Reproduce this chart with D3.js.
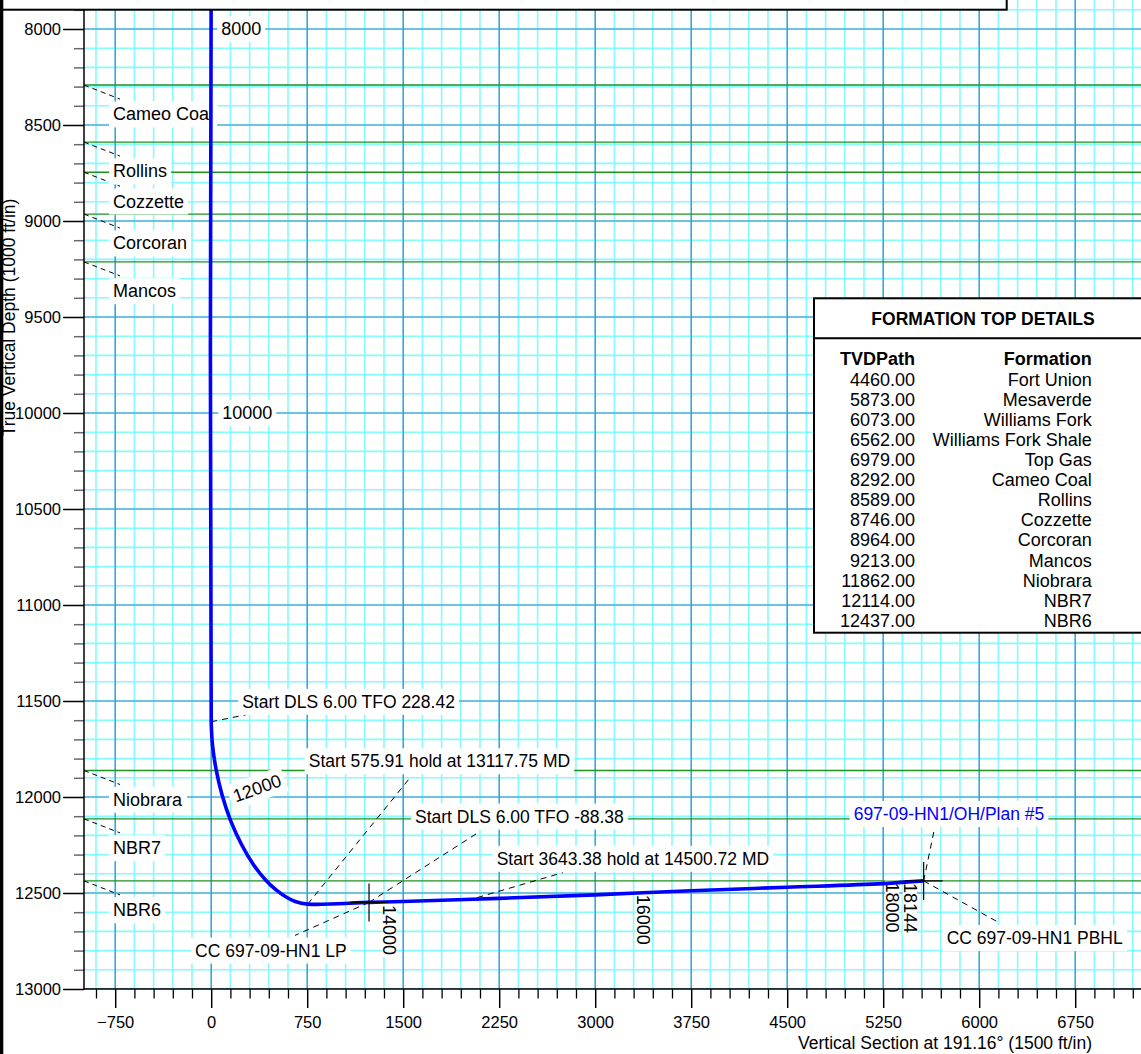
<!DOCTYPE html>
<html>
<head>
<meta charset="utf-8">
<script src="https://d3js.org/d3.v7.min.js"></script>
<style>
body{margin:0;background:#fff;}
text{font-family:"Liberation Sans",Arial,sans-serif;fill:#000;}
</style>
</head>
<body>
<script>
var width = 1141, height = 1054;

// formation tops
var formNames = ["Fort Union","Mesaverde","Williams Fork","Williams Fork Shale","Top Gas","Cameo Coal","Rollins","Cozzette","Corcoran","Mancos","Niobrara","NBR7","NBR6"];
var formTVD = [4460,5873,6073,6562,6979,8292,8589,8746,8964,9213,11862,12114,12437];

// well path (vertical section, true vertical depth)
var pathVS  = [0, 0, 10, 39, 85, 150, 239, 332, 425, 507, 585, 656, 754, 1233, 1498, 2248, 2998, 3748, 4498, 5248, 5566];
var pathTVD = [7700, 11608, 11729, 11859, 11990, 12120, 12250, 12354, 12432, 12484, 12521, 12544, 12558, 12549, 12544, 12528, 12510, 12488, 12470, 12451, 12437];

// measured depth marks along the path
var mdLabels = ["8000","10000","12000","14000","16000","18000","18144"];
var mdVS  = [0, 0, 85, 1500, 3480, 5420, 5566];
var mdTVD = [8000, 10000, 11990, 12544, 12501, 12443, 12437];

// plan annotations
var noteText = ["Start DLS 6.00 TFO 228.42","Start 575.91 hold at 13117.75 MD","Start DLS 6.00 TFO -88.38","Start 3643.38 hold at 14500.72 MD","CC 697-09-HN1 LP","CC 697-09-HN1 PBHL","697-09-HN1/OH/Plan #5"];
var noteVS  = [0, 754, 1233, 1996, 1233, 5566, 5566];
var noteTVD = [11608, 12558, 12549, 12540, 12549, 12437, 12437];

// targets
var targetVS = [1233, 5566];
var targetTVD = [12549, 12437];

// axis tick labels
var xTickValues = [-750, 0, 750, 1500, 2250, 3000, 3750, 4500, 5250, 6000, 6750];
var yTickValues = [8000, 8500, 9000, 9500, 10000, 10500, 11000, 11500, 12000, 12500, 13000];

// label placement (pixel offsets from anchors): text dx, dy, leader dx, dy
var noteLayout = [[31,-20,35,-7],[1,-143,102,-126],[46,-86,111,-71],[30,-42,96,-28],[-174,48,-74,33],[23,57,74,41],[-70,-67,11,-53]];
var mdLayout = [[10,0,0,"start"],[11,0,0,"start"],[35,-7,-20,"middle"],[-20,3.5,90,"start"],[-20,1.5,90,"start"],[-19,0.5,90,"start"],[-20,2,90,"start"]];

var svg = d3.select("body")
.append("svg")
.attr("width", width)
.attr("height", height)
.style("display","block");

svg.append("rect").attr("width", width).attr("height", height).attr("fill", "#fff");

var x = d3.scaleLinear().domain([-750, 6750]).range([115.2, 1075.2]);
var y = d3.scaleLinear().domain([8000, 13000]).range([29, 989]);

var plotL = 84, plotR = width, plotT = 0, plotB = 989;
var tvdTop = y.invert(plotT);

svg.append("clipPath").attr("id","plotClip").append("rect")
.attr("x", plotL).attr("y", plotT)
.attr("width", plotR - plotL).attr("height", plotB - plotT);

var plot = svg.append("g").attr("clip-path","url(#plotClip)");

// grid
var minorV = d3.range(-900, 7201, 150), majorV = d3.range(-750, 7201, 750);
var minorH = d3.range(7900, 13001, 100), majorH = d3.range(8000, 13001, 500);

plot.selectAll(".minorV").data(minorV)
.enter().append("line").attr("class","minorV")
.attr("x1", d => x(d)).attr("x2", d => x(d))
.attr("y1", plotT).attr("y2", plotB)
.attr("stroke","#84fbff").attr("stroke-width",1.6);

plot.selectAll(".minorH").data(minorH)
.enter().append("line").attr("class","minorH")
.attr("x1", plotL).attr("x2", plotR)
.attr("y1", d => y(d)).attr("y2", d => y(d))
.attr("stroke","#84fbff").attr("stroke-width",1.6);

plot.selectAll(".majorV").data(majorV)
.enter().append("line").attr("class","majorV")
.attr("x1", d => x(d)).attr("x2", d => x(d))
.attr("y1", plotT).attr("y2", plotB)
.attr("stroke","#3a88c6").attr("stroke-width",1.2);

plot.selectAll(".majorH").data(majorH)
.enter().append("line").attr("class","majorH")
.attr("x1", plotL).attr("x2", plotR)
.attr("y1", d => y(d)).attr("y2", d => y(d))
.attr("stroke","#3a88c6").attr("stroke-width",1.2);

// formation tops inside the window
var forms = formNames.map(function(n, i){ return {name:n, tvd:formTVD[i]}; })
.filter(function(f){ return f.tvd > tvdTop && f.tvd < 13000; });

plot.selectAll(".formLine").data(forms)
.enter().append("line").attr("class","formLine")
.attr("x1", plotL).attr("x2", plotR)
.attr("y1", d => y(d.tvd)).attr("y2", d => y(d.tvd))
.attr("stroke","#1f921f").attr("stroke-width",1.4);

var dash = "6,5";

plot.selectAll(".formLeader").data(forms)
.enter().append("line").attr("class","formLeader")
.attr("x1", plotL).attr("x2", plotL + 36)
.attr("y1", d => y(d.tvd)).attr("y2", d => y(d.tvd) + 14)
.attr("stroke","#000").attr("stroke-width",1).attr("stroke-dasharray","5,4");

// annotation leaders
var notes = noteText.map(function(t, i){
    return {text:t, vs:noteVS[i], tvd:noteTVD[i], lay:noteLayout[i]};
});

plot.selectAll(".noteLeader").data(notes)
.enter().append("line").attr("class","noteLeader")
.attr("x1", d => x(d.vs)).attr("y1", d => y(d.tvd))
.attr("x2", d => x(d.vs) + d.lay[2]).attr("y2", d => y(d.tvd) + d.lay[3])
.attr("stroke","#000").attr("stroke-width",1).attr("stroke-dasharray",dash);

// boxed labels
var labels = plot.append("g");

function boxedLabel(tx, ty, rot, txt, anchor, dy, size, color, tight){
    var g = labels.append("g")
    .attr("transform","translate(" + tx + "," + ty + ") rotate(" + rot + ")");
    var r = g.append("rect").attr("fill","#fff");
    var t = g.append("text")
    .attr("text-anchor", anchor)
    .attr("dy", dy)
    .style("font-size", size + "px")
    .style("fill", color || "#000")
    .text(txt);
    var b = t.node().getBBox();
    if (tight) {
        // only the digit band, so neighbouring md labels don't hide each other
        r.attr("x", b.x - 2).attr("y", -size * 0.74)
        .attr("width", b.width + 4).attr("height", size * 0.74 + 1);
    } else {
        r.attr("x", b.x - 4).attr("y", b.y - 3)
        .attr("width", b.width + 8).attr("height", b.height + 6);
    }
}

forms.forEach(function(f){
    boxedLabel(113, y(f.tvd) + 29, 0, f.name, "start", "0.35em", 18);
});

notes.forEach(function(n, i){
    boxedLabel(x(n.vs) + n.lay[0], y(n.tvd) + n.lay[1], 0, n.text, "start", "0.35em", 17.5,
        i == notes.length - 1 ? "#0000ff" : "#000");
});

mdLabels.forEach(function(m, i){
    var l = mdLayout[i];
    var vert = l[2] == 90;
    boxedLabel(x(mdVS[i]) + l[0], y(mdTVD[i]) + l[1], l[2], m, l[3], vert ? "0" : "0.35em", 18, "#000", vert);
});

// well path
var wellPts = pathVS.map(function(v, i){ return [v, pathTVD[i]]; });
var wellLine = d3.line()
.x(d => x(d[0]))
.y(d => y(d[1]))
.curve(d3.curveCatmullRom.alpha(0.5));

plot.append("path")
.datum(wellPts)
.attr("d", wellLine)
.attr("fill","none")
.attr("stroke","#0000ff")
.attr("stroke-width",3.6)
.attr("stroke-linejoin","round");

// target crosses
var targets = targetVS.map(function(v, i){ return [v, targetTVD[i]]; });
plot.selectAll(".tgtV").data(targets)
.enter().append("line").attr("class","tgtV")
.attr("x1", d => x(d[0])).attr("x2", d => x(d[0]))
.attr("y1", d => y(d[1]) - 19).attr("y2", d => y(d[1]) + 19)
.attr("stroke","#000").attr("stroke-width",1.2);
plot.selectAll(".tgtH").data(targets)
.enter().append("line").attr("class","tgtH")
.attr("x1", d => x(d[0]) - 19).attr("x2", d => x(d[0]) + 19)
.attr("y1", d => y(d[1])).attr("y2", d => y(d[1]))
.attr("stroke","#000").attr("stroke-width",1.2);

// formation top details table
var table = svg.append("g");
var tblX = 814, tblTop = 298.3, tblSep = 338.3, tblBot = 632.7;
table.append("rect")
.attr("x", tblX).attr("y", tblTop)
.attr("width", width - tblX + 10).attr("height", tblBot - tblTop)
.attr("fill","#fff").attr("stroke","#000").attr("stroke-width",2);
table.append("line")
.attr("x1", tblX).attr("x2", width)
.attr("y1", tblSep).attr("y2", tblSep)
.attr("stroke","#000").attr("stroke-width",2);
table.append("text")
.attr("x", 983).attr("y", 319.3).attr("dy","0.35em")
.attr("text-anchor","middle")
.style("font-size","17.5px").style("font-weight","bold")
.text("FORMATION TOP DETAILS");
table.append("text")
.attr("x", 915).attr("y", 358.3).attr("dy","0.35em")
.attr("text-anchor","end")
.style("font-size","18px").style("font-weight","bold")
.text("TVDPath");
table.append("text")
.attr("x", 1091.7).attr("y", 358.3).attr("dy","0.35em")
.attr("text-anchor","end")
.style("font-size","18px").style("font-weight","bold")
.text("Formation");

var fmt2 = d3.format(".2f");
table.selectAll(".tvdCell").data(formTVD)
.enter().append("text").attr("class","tvdCell")
.attr("x", 915).attr("y", (d, i) => 379.3 + i * 20.1).attr("dy","0.35em")
.attr("text-anchor","end").style("font-size","18px")
.text(d => fmt2(d));
table.selectAll(".nameCell").data(formNames)
.enter().append("text").attr("class","nameCell")
.attr("x", 1091.7).attr("y", (d, i) => 379.3 + i * 20.1).attr("dy","0.35em")
.attr("text-anchor","end").style("font-size","18px")
.text(d => d);

// axes
var minorYTicks = minorH.filter(d => d % 500 != 0);
var minorXTicks = minorV.filter(d => d % 750 != 0 && x(d) > plotL);

svg.append("g")
.attr("transform","translate(" + plotL + ",0)")
.call(d3.axisLeft(y).tickValues(minorYTicks).tickSize(10).tickSizeOuter(0).tickFormat(""))
.call(g => g.select(".domain").remove())
.call(g => g.selectAll("line").attr("stroke","#6a6a6a").attr("stroke-width",1.5));

svg.append("g")
.attr("transform","translate(" + plotL + ",0)")
.call(d3.axisLeft(y).tickValues(yTickValues).tickSize(21).tickSizeOuter(0).tickPadding(2).tickFormat(d3.format("d")))
.call(g => g.select(".domain").remove())
.call(g => g.selectAll("line").attr("stroke","#000").attr("stroke-width",1.5))
.call(g => g.selectAll("text").style("font-size","16.5px").attr("font-family",null));

svg.append("g")
.attr("transform","translate(0," + plotB + ")")
.call(d3.axisBottom(x).tickValues(minorXTicks).tickSize(9.5).tickSizeOuter(0).tickFormat(""))
.call(g => g.select(".domain").remove())
.call(g => g.selectAll("line").attr("stroke","#000").attr("stroke-width",1.3));

svg.append("g")
.attr("transform","translate(0," + plotB + ")")
.call(d3.axisBottom(x).tickValues(xTickValues).tickSize(19).tickSizeOuter(0).tickPadding(8).tickFormat(d3.format("d")))
.call(g => g.select(".domain").remove())
.call(g => g.selectAll("line").attr("stroke","#000").attr("stroke-width",1.5))
.call(g => g.selectAll("text").style("font-size","16.5px").attr("font-family",null));

svg.append("line")
.attr("x1", plotL).attr("x2", plotL).attr("y1", 10).attr("y2", plotB + 0.75)
.attr("stroke","#000").attr("stroke-width",1.5);
svg.append("line")
.attr("x1", plotL).attr("x2", plotR).attr("y1", plotB).attr("y2", plotB)
.attr("stroke","#000").attr("stroke-width",1.5);

// axis titles
svg.append("text")
.attr("transform","translate(15,317.5) rotate(-90)")
.attr("text-anchor","middle")
.style("font-size","17.5px")
.text("True Vertical Depth (1000 ft/in)");

svg.append("text")
.attr("x", 1092).attr("y", 1049)
.attr("text-anchor","end")
.style("font-size","17.5px")
.text("Vertical Section at 191.16\u00b0 (1500 ft/in)");

// header box and left frame
svg.append("rect")
.attr("x", -5).attr("y", -5)
.attr("width", 1011.7).attr("height", 14.7)
.attr("fill","#fff").attr("stroke","#000").attr("stroke-width",2);
svg.append("rect")
.attr("x", 0).attr("y", 0).attr("width", 3.3).attr("height", height)
.attr("fill","#000");
</script>
</body>
</html>
